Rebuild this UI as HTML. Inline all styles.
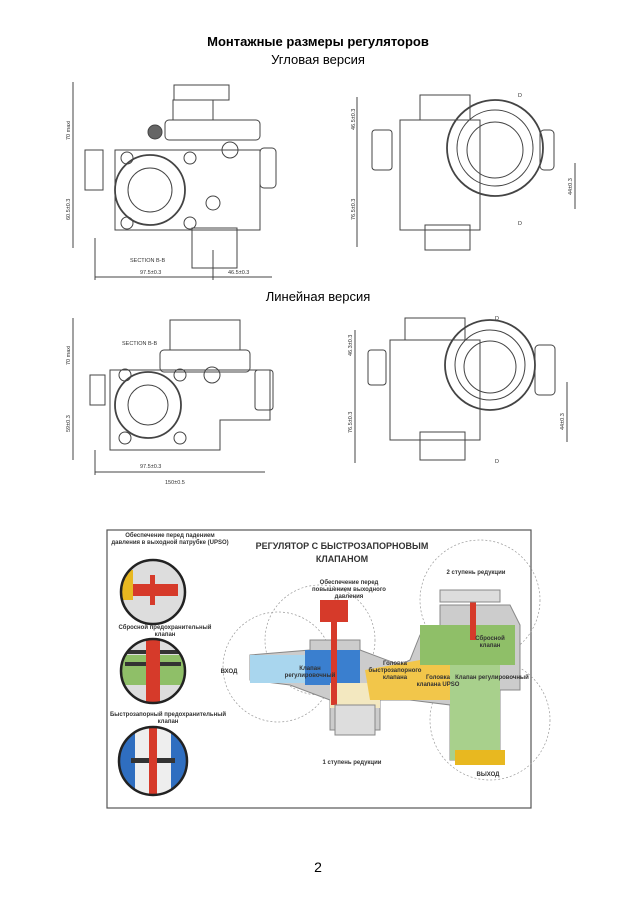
<!DOCTYPE html>
<html><head><meta charset="utf-8"><style>
body{margin:0;background:#fff;width:637px;height:900px;overflow:hidden;font-family:"Liberation Sans",sans-serif}
</style></head><body>
<svg width="637" height="900" viewBox="0 0 637 900" xmlns="http://www.w3.org/2000/svg" font-family="Liberation Sans, sans-serif">
<text x="318" y="46" text-anchor="middle" font-size="13" font-weight="bold">Монтажные размеры регуляторов</text>
<text x="318" y="64" text-anchor="middle" font-size="13">Угловая версия</text>
<text x="318" y="301" text-anchor="middle" font-size="13">Линейная версия</text>
<text x="318" y="872" text-anchor="middle" font-size="14">2</text>

<g fill="none" stroke="#444" stroke-width="1">
<line x1="73" y1="82" x2="73" y2="248"/><line x1="95" y1="238" x2="95" y2="280"/>
<line x1="95" y1="277" x2="272" y2="277"/><line x1="213" y1="250" x2="213" y2="280"/>
<rect x="174" y="85" width="55" height="15"/><rect x="173" y="100" width="40" height="20"/>
<rect x="165" y="120" width="95" height="20" rx="4"/>
<circle cx="155" cy="132" r="7" fill="#666"/>
<rect x="85" y="150" width="18" height="40"/>
<path d="M115 150 L260 150 L260 230 L115 230 Z"/>
<circle cx="150" cy="190" r="35" stroke-width="1.8"/><circle cx="150" cy="190" r="22"/>
<circle cx="127" cy="158" r="6"/><circle cx="190" cy="158" r="6"/><circle cx="127" cy="223" r="6"/><circle cx="190" cy="223" r="6"/>
<circle cx="230" cy="150" r="8"/><circle cx="213" cy="203" r="7"/>
<rect x="260" y="148" width="16" height="40" rx="4"/>
<rect x="192" y="228" width="45" height="40"/>
<line x1="357" y1="97" x2="357" y2="247"/><line x1="575" y1="163" x2="575" y2="209"/>
<rect x="420" y="95" width="50" height="25"/><rect x="400" y="120" width="80" height="110"/>
<rect x="372" y="130" width="20" height="40" rx="3"/>
<circle cx="495" cy="148" r="48" stroke-width="1.8"/><circle cx="495" cy="148" r="38"/><circle cx="495" cy="150" r="28"/>
<rect x="540" y="130" width="14" height="40" rx="4"/>
<rect x="425" y="225" width="45" height="25"/>
<line x1="73" y1="318" x2="73" y2="460"/><line x1="95" y1="450" x2="95" y2="475"/><line x1="95" y1="472" x2="265" y2="472"/>
<rect x="170" y="320" width="70" height="30"/><rect x="160" y="350" width="90" height="22" rx="4"/>
<rect x="90" y="375" width="15" height="30"/>
<path d="M110 370 L270 370 L270 420 L220 420 L220 450 L110 450 Z"/>
<circle cx="148" cy="405" r="33" stroke-width="1.8"/><circle cx="148" cy="405" r="20"/>
<circle cx="125" cy="375" r="6"/><circle cx="180" cy="375" r="6"/><circle cx="125" cy="438" r="6"/><circle cx="180" cy="438" r="6"/>
<circle cx="212" cy="375" r="8"/>
<rect x="255" y="370" width="18" height="40" rx="3"/>
<line x1="355" y1="330" x2="355" y2="463"/><line x1="567" y1="382" x2="567" y2="442"/>
<rect x="405" y="318" width="60" height="22"/><rect x="390" y="340" width="90" height="100"/>
<rect x="368" y="350" width="18" height="35" rx="3"/>
<circle cx="490" cy="365" r="45" stroke-width="1.8"/><circle cx="490" cy="365" r="35"/><circle cx="490" cy="367" r="26"/>
<rect x="535" y="345" width="20" height="50" rx="4"/>
<rect x="420" y="432" width="45" height="28"/>
</g>
<g font-size="5.5" fill="#333">
<text x="70" y="140" transform="rotate(-90 70 140)">70 maxi</text>
<text x="70" y="220" transform="rotate(-90 70 220)">60.5±0.3</text>
<text x="140" y="274">97.5±0.3</text><text x="228" y="274">46.5±0.3</text>
<text x="130" y="262">SECTION B-B</text>
<text x="355" y="130" transform="rotate(-90 355 130)">46.5±0.3</text>
<text x="355" y="220" transform="rotate(-90 355 220)">76.5±0.3</text>
<text x="572" y="195" transform="rotate(-90 572 195)">44±0.3</text>
<text x="518" y="97">D</text><text x="518" y="225">D</text>
<text x="70" y="365" transform="rotate(-90 70 365)">70 maxi</text>
<text x="70" y="432" transform="rotate(-90 70 432)">59±0.3</text>
<text x="140" y="468">97.5±0.3</text><text x="165" y="484">150±0.5</text>
<text x="122" y="345">SECTION B-B</text>
<text x="352" y="356" transform="rotate(-90 352 356)">46.3±0.3</text>
<text x="352" y="433" transform="rotate(-90 352 433)">76.5±0.3</text>
<text x="564" y="430" transform="rotate(-90 564 430)">44±0.3</text>
<text x="495" y="320">D</text><text x="495" y="463">D</text>
</g>

<rect x="107" y="530" width="424" height="278" fill="#fff" stroke="#555" stroke-width="1.2"/>
<g fill="none" stroke="#999" stroke-dasharray="2,2" stroke-width="0.7">
<circle cx="278" cy="667" r="55"/><circle cx="320" cy="640" r="55"/><circle cx="480" cy="600" r="60"/><circle cx="490" cy="720" r="60"/>
</g>
<clipPath id="c1"><circle cx="153" cy="592" r="32"/></clipPath>
<clipPath id="c2"><circle cx="153" cy="671" r="32"/></clipPath>
<clipPath id="c3"><circle cx="153" cy="761" r="34"/></clipPath>
<g clip-path="url(#c1)"><rect x="115" y="555" width="80" height="80" fill="#ddd"/><rect x="121" y="570" width="12" height="30" fill="#e8b820"/><rect x="133" y="584" width="45" height="12" fill="#d63a2a"/><rect x="150" y="575" width="5" height="30" fill="#d63a2a"/></g>
<circle cx="153" cy="592" r="32" fill="none" stroke="#222" stroke-width="2.5"/>
<g clip-path="url(#c2)"><rect x="115" y="635" width="80" height="80" fill="#ddd"/><rect x="120" y="655" width="66" height="30" fill="#8fbf68"/><rect x="125" y="650" width="56" height="4" fill="#333"/><rect x="125" y="662" width="56" height="4" fill="#333"/><rect x="146" y="640" width="14" height="65" fill="#d63a2a"/></g>
<circle cx="153" cy="671" r="32" fill="none" stroke="#222" stroke-width="2.5"/>
<g clip-path="url(#c3)"><rect x="115" y="725" width="80" height="80" fill="#2f6ec0"/><rect x="135" y="727" width="36" height="70" fill="#eee"/><rect x="131" y="758" width="44" height="5" fill="#333"/><rect x="149" y="725" width="8" height="75" fill="#d63a2a"/></g>
<circle cx="153" cy="761" r="34" fill="none" stroke="#222" stroke-width="2.5"/>
<path d="M250 655 L310 650 L310 640 L360 640 L360 650 L400 665 L410 660 L420 635 L440 635 L440 605 L510 605 L520 625 L520 690 L500 690 L500 760 L450 760 L450 705 L410 700 L380 700 L380 730 L330 730 L330 700 L290 685 L250 680 Z" fill="#ccc" stroke="#888"/>
<rect x="250" y="655" width="60" height="28" fill="#a9d6ee"/>
<rect x="305" y="650" width="55" height="35" fill="#3a7fcf"/>
<rect x="330" y="683" width="50" height="25" fill="#f3e8c0"/>
<path d="M365 670 L420 660 L470 665 L470 700 L410 700 L370 700 Z" fill="#f2c64a"/>
<rect x="420" y="625" width="95" height="40" fill="#8fbf68"/>
<rect x="450" y="665" width="50" height="95" fill="#a8d08c"/>
<rect x="320" y="600" width="28" height="22" fill="#d63a2a"/>
<rect x="331" y="605" width="6" height="100" fill="#d63a2a"/>
<rect x="470" y="595" width="6" height="45" fill="#d63a2a"/>
<rect x="335" y="705" width="40" height="30" fill="#ddd" stroke="#888"/>
<rect x="440" y="590" width="60" height="12" fill="#ddd" stroke="#888"/>
<rect x="455" y="750" width="50" height="15" fill="#e8b820"/>
<g font-size="6" font-weight="bold" fill="#333" text-anchor="middle">
<text x="170" y="537">Обеспечение перед падением</text><text x="170" y="544">давления в выходной патрубке (UPSO)</text>
<text x="165" y="629">Сбросной предохранительный</text><text x="165" y="636">клапан</text>
<text x="168" y="716">Быстрозапорный предохранительный</text><text x="168" y="723">клапан</text>
<text x="349" y="584">Обеспечение перед</text><text x="349" y="591">повышением выходного</text><text x="349" y="598">давления</text>
<text x="476" y="574">2 ступень редукции</text>
<text x="490" y="640">Сбросной</text><text x="490" y="647">клапан</text>
<text x="310" y="670">Клапан</text><text x="310" y="677">регулировочный</text>
<text x="395" y="665">Головка</text><text x="395" y="672">быстрозапорного</text><text x="395" y="679">клапана</text>
<text x="438" y="679">Головка</text><text x="438" y="686">клапана UPSO</text>
<text x="492" y="679">Клапан регулировочный</text>
<text x="229" y="673">ВХОД</text><text x="488" y="776">ВЫХОД</text>
<text x="352" y="764">1 ступень редукции</text>
</g>
<g font-size="9" font-weight="bold" fill="#333" text-anchor="middle">
<text x="342" y="549">РЕГУЛЯТОР С БЫСТРОЗАПОРНОВЫМ</text><text x="342" y="562">КЛАПАНОМ</text>
</g>
</svg>
</body></html>
